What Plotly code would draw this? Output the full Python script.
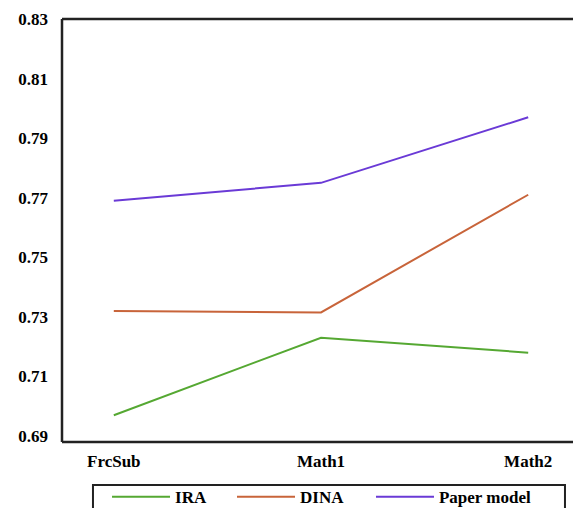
import plotly.graph_objects as go

categories = ["FrcSub", "Math1", "Math2"]
ira = [0.697, 0.723, 0.718]
dina = [0.732, 0.7315, 0.771]
paper = [0.769, 0.775, 0.797]
series_names = ["IRA", "DINA", "Paper model"]
tick_vals = [0.69, 0.71, 0.73, 0.75, 0.77, 0.79, 0.81, 0.83]
tick_text = ["0.69", "0.71", "0.73", "0.75", "0.77", "0.79", "0.81", "0.83"]

colors = ["#55a832", "#c8643a", "#6a3ad6"]
serif = "Liberation Serif, Times New Roman, serif"
legend_ids = ["legend", "legend2", "legend3"]
legend_x = [0.0869, 0.3282, 0.5965]

fig = go.Figure()
for name, vals, c, lid in zip(series_names, [ira, dina, paper], colors, legend_ids):
    fig.add_trace(go.Scatter(x=categories, y=vals, mode="lines", name=name, legend=lid,
                             line=dict(color=c, width=2)))

layout_legends = {}
for lid, lx in zip(legend_ids, legend_x):
    layout_legends[lid] = dict(orientation="h", x=lx, xanchor="left", y=-0.088, yanchor="top",
                               borderwidth=0, bgcolor="rgba(0,0,0,0)",
                               font=dict(family=serif, size=17, color="black", weight="bold"),
                               itemwidth=58)

fig.update_layout(
    width=573, height=500,
    margin=dict(l=54, r=1, t=11, b=66, autoexpand=False),
    paper_bgcolor="white", plot_bgcolor="white",
    font=dict(family=serif, size=17, color="black", weight="bold"),
    showlegend=True,
    xaxis=dict(range=[-0.25, 2.25], showgrid=False, zeroline=False, automargin=False,
               showline=False, ticks="", ticklabelstandoff=7,
               tickfont=dict(family=serif, size=17, color="black", weight="bold")),
    yaxis=dict(range=[0.688, 0.83], tickvals=tick_vals, ticktext=tick_text, automargin=False,
               showgrid=False, zeroline=False, showline=False, ticks="",
               ticklabelstandoff=13,
               tickfont=dict(family=serif, size=17, color="black", weight="bold")),
    **layout_legends,
)

# frame
fig.add_shape(type="line", xref="paper", yref="paper", x0=0, x1=0, y0=0, y1=1,
              line=dict(color="#222", width=2.5))
fig.add_shape(type="line", xref="paper", yref="paper", x0=0, x1=1, y0=1, y1=1,
              line=dict(color="#222", width=2.5))
fig.add_shape(type="line", xref="paper", yref="paper", x0=0, x1=1, y0=0, y1=0,
              line=dict(color="#222", width=2.5))
fig.add_shape(type="line", xref="paper", yref="paper", x0=0.998, x1=0.998, y0=0, y1=1,
              line=dict(color="#dddddd", width=1))
# legend box
fig.add_shape(type="rect", xref="paper", yref="paper", x0=0.0598, x1=0.971, y0=-0.1017, y1=-0.2,
              line=dict(color="#222", width=2))

fig.write_html("out.html")
